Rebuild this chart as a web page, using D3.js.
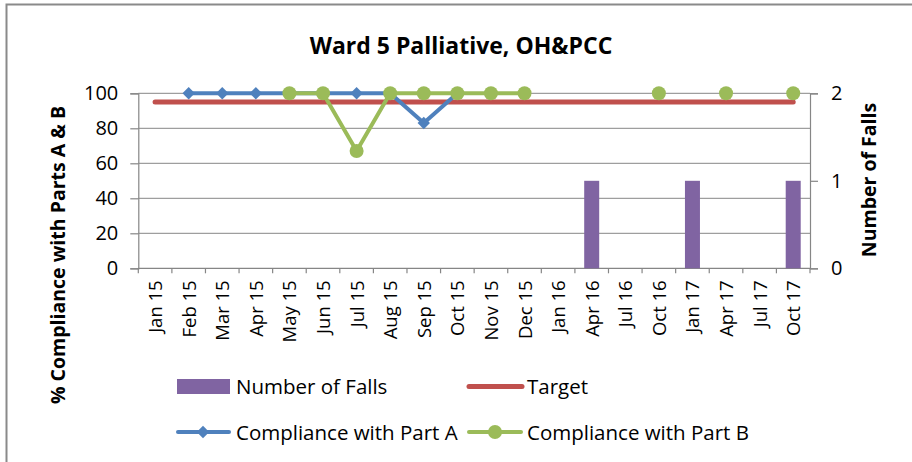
<!DOCTYPE html>
<html>
<head>
<meta charset="utf-8">
<script src="https://cdn.jsdelivr.net/npm/d3@7"></script>
<style>
  body { margin: 0; background: #fff; }
  text { font-family: "Open Sans", "Noto Sans", sans-serif; fill: #000; }
</style>
</head>
<body>
<script>
/* Ward 5 Palliative compliance chart */

// data
var months = ["Jan 15","Feb 15","Mar 15","Apr 15","May 15","Jun 15","Jul 15","Aug 15","Sep 15","Oct 15",
              "Nov 15","Dec 15","Jan 16","Apr 16","Jul 16","Oct 16","Jan 17","Apr 17","Jul 17","Oct 17"];
var falls   = [0,0,0,0,0,0,0,0,0,0,0,0,0,1,0,0,1,0,0,1];
var target  = [95,95,95,95,95,95,95,95,95,95,95,95,95,95,95,95,95,95,95,95];
var partA   = [null,100,100,100,100,100,100,100,83,100,null,null,null,null,null,null,null,null,null,null];
var partB   = [null,null,null,null,100,100,67,100,100,100,100,100,null,null,null,100,null,100,null,100];
var leftTicks  = [0,20,40,60,80,100];
var rightTicks = [0,1,2];

var blue = "#4F81BD", green = "#9BBB59", red = "#C0504D", purple = "#8064A2", grid = "#868686";

var svg = d3.select("body").append("svg").attr("width", 912).attr("height", 462);

svg.append("rect").attr("width", 912).attr("height", 462).attr("fill", "#fff");
// outer chart border (runs off the picture at right and bottom)
svg.append("rect").attr("x", 6.5).attr("y", 4.5).attr("width", 1000).attr("height", 1000)
   .attr("fill", "none").attr("stroke", "#8a8a8a").attr("stroke-width", 2);

var plotL = 138.3, plotR = 810, plotT = 93.3, plotB = 268.3;

var x = d3.scaleBand().domain(months).range([plotL, plotR]).padding(0);
var y = d3.scaleLinear().domain([0, 100]).range([plotB, plotT]);
var y2 = d3.scaleLinear().domain([0, 2]).range([plotB, plotT]);
function cx(i) { return x(months[i]) + x.bandwidth() / 2; }

// title
svg.append("text").attr("x", 461).attr("y", 54).attr("text-anchor", "middle")
   .style("font-size", "23px").style("font-weight", "bold").text("Ward 5 Palliative, OH&PCC");

// gridlines
svg.selectAll(".grid").data(leftTicks.slice(1)).enter().append("line")
   .attr("x1", plotL).attr("x2", plotR)
   .attr("y1", function(d){ return y(d); }).attr("y2", function(d){ return y(d); })
   .attr("stroke", grid).attr("stroke-width", 1);

// left axis
var gl = svg.append("g").attr("transform", "translate(" + plotL + ",0)")
   .call(d3.axisLeft(y).tickValues(leftTicks).tickSize(8).tickPadding(12));
// right axis
var gr = svg.append("g").attr("transform", "translate(" + plotR + ",0)")
   .call(d3.axisRight(y2).tickValues(rightTicks).tickFormat(d3.format("d")).tickSize(8).tickPadding(13));
[gl, gr].forEach(function(g){
  g.select(".domain").attr("stroke", grid).attr("stroke-width", 1.2);
  g.selectAll(".tick line").attr("stroke", grid).attr("stroke-width", 1.2);
  g.selectAll("text").style("font-size", "20px").style("font-family", "Open Sans, sans-serif").attr("fill", "#000");
});
// bottom axis line
svg.append("line").attr("x1", plotL).attr("x2", plotR).attr("y1", plotB).attr("y2", plotB)
   .attr("stroke", grid).attr("stroke-width", 1.2);
// category boundary ticks
var bounds = months.map(function(m){ return x(m); }).concat([plotR]);
svg.selectAll(".ctick").data(bounds).enter().append("line")
   .attr("x1", function(d){ return d; }).attr("x2", function(d){ return d; })
   .attr("y1", plotB).attr("y2", plotB + 5)
   .attr("stroke", grid).attr("stroke-width", 1.2);

// category labels
svg.selectAll(".clab").data(months).enter().append("text")
   .attr("transform", function(d, i){ return "translate(" + (cx(i) + 7) + "," + (plotB + 12) + ") rotate(-90)"; })
   .attr("text-anchor", "end").style("font-size", "18.5px").text(function(d){ return d; });

// axis titles
svg.append("text").attr("transform", "translate(65,255) rotate(-90)").attr("text-anchor", "middle")
   .style("font-size", "19.5px").style("font-weight", "bold").text("% Compliance with Parts A & B");
svg.append("text").attr("transform", "translate(876,180) rotate(-90)").attr("text-anchor", "middle")
   .style("font-size", "19.5px").style("font-weight", "bold").text("Number of Falls");

// bars
var barW = 15;
falls.forEach(function(d, i){
  if (d > 0) {
    svg.append("rect").attr("class", "bar")
       .attr("x", cx(i) - barW / 2).attr("width", barW)
       .attr("y", y2(d)).attr("height", y2(0) - y2(d))
       .attr("fill", purple);
  }
});

// lines
function lineFor(vals) {
  return d3.line().defined(function(d){ return d != null; })
    .x(function(d, i){ return cx(i); }).y(function(d){ return y(d); })(vals);
}
svg.append("path").attr("d", lineFor(target)).attr("fill", "none")
   .attr("stroke", red).attr("stroke-width", 5).attr("stroke-linecap", "round");
svg.append("path").attr("d", lineFor(partA)).attr("fill", "none")
   .attr("stroke", blue).attr("stroke-width", 4).attr("stroke-linejoin", "round");
partA.forEach(function(d, i){
  if (d != null) {
    svg.append("path").attr("d", d3.symbol(d3.symbolDiamond2, 98)())
       .attr("transform", "translate(" + cx(i) + "," + y(d) + ")").attr("fill", blue);
  }
});
svg.append("path").attr("d", lineFor(partB)).attr("fill", "none")
   .attr("stroke", green).attr("stroke-width", 4).attr("stroke-linejoin", "round");
partB.forEach(function(d, i){
  if (d != null) {
    svg.append("circle").attr("cx", cx(i)).attr("cy", y(d)).attr("r", 7).attr("fill", green);
  }
});

// legend
var lg = svg.append("g");
lg.append("rect").attr("x", 177).attr("y", 379).attr("width", 53).attr("height", 15).attr("fill", purple);
lg.append("text").attr("x", 236).attr("y", 393.5).style("font-size", "20.5px").text("Number of Falls");
lg.append("line").attr("x1", 469).attr("x2", 522).attr("y1", 386.5).attr("y2", 386.5)
  .attr("stroke", red).attr("stroke-width", 5).attr("stroke-linecap", "round");
lg.append("text").attr("x", 527).attr("y", 393.5).style("font-size", "20.5px").text("Target");

lg.append("line").attr("x1", 178).attr("x2", 229).attr("y1", 432).attr("y2", 432)
  .attr("stroke", blue).attr("stroke-width", 4).attr("stroke-linecap", "round");
lg.append("path").attr("d", d3.symbol(d3.symbolDiamond2, 98)()).attr("transform", "translate(203,432)").attr("fill", blue);
lg.append("text").attr("x", 236).attr("y", 439.5).style("font-size", "20.5px").text("Compliance with Part A");
lg.append("line").attr("x1", 469).attr("x2", 521).attr("y1", 432).attr("y2", 432)
  .attr("stroke", green).attr("stroke-width", 4).attr("stroke-linecap", "round");
lg.append("circle").attr("cx", 495).attr("cy", 432).attr("r", 7).attr("fill", green);
lg.append("text").attr("x", 527).attr("y", 439.5).style("font-size", "20.5px").text("Compliance with Part B");
</script>
</body>
</html>
